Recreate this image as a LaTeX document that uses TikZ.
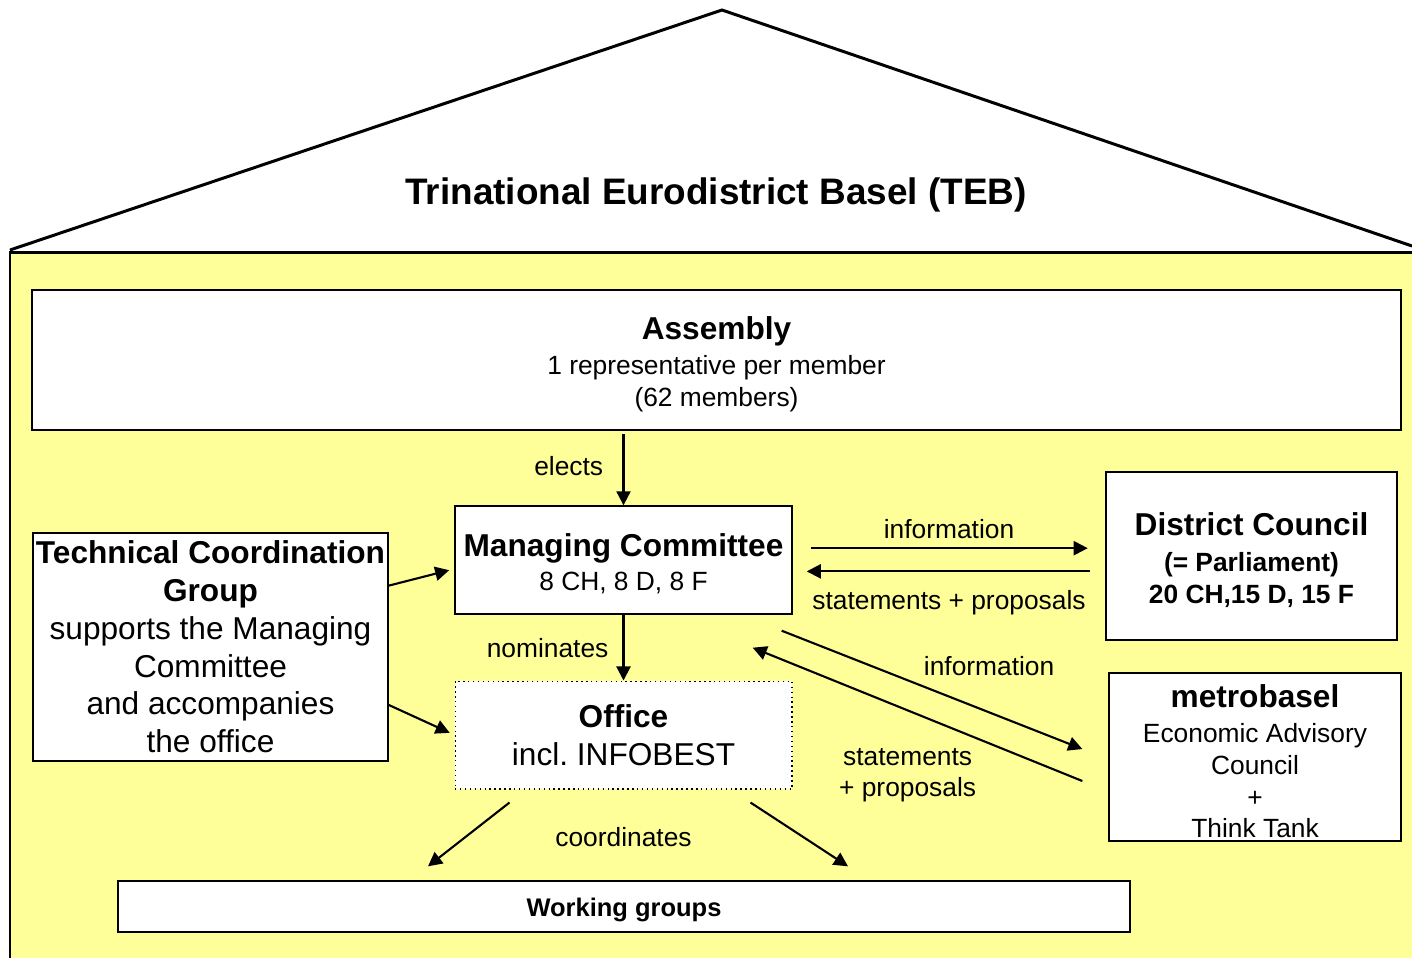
\documentclass[tikz,border=0pt]{standalone}
\usepackage{fontspec}
\setmainfont{Liberation Sans}
\usetikzlibrary{arrows.meta,positioning}
\definecolor{housefill}{HTML}{FFFF99}
\newcommand{\hdfont}{\fontsize{18}{21.5}\selectfont\bfseries}
\newcommand{\smfont}{\fontsize{15}{18}\selectfont}
\newcommand{\hdline}[1]{\rule{0pt}{17.7pt}{\hdfont #1}}

\begin{document}
\begin{tikzpicture}
	[x=0.02cm,y=-0.02cm,
	box/.style={draw,fill=white,line width=0.8pt,inner sep=0pt,align=center,font=\smfont},
	lbl/.style={font=\smfont,inner sep=2pt,align=center},
	arr/.style={-{Triangle[length=8pt,width=8pt]},line width=1.2pt},
	wall/.style={line width=1.7pt}]
	\useasboundingbox (0,0) rectangle (1412,958);
	% house
	\fill[housefill] (10,252) rectangle (1412,958);
	\draw[wall] (10,250) -- (722,10) -- (1412,246);
	\draw[wall] (10,958) -- (10,252) -- (1412,252);
	\node (title) at (716,195) {\fontsize{21}{25}\selectfont\bfseries Trinational Eurodistrict Basel (TEB)};
	
	% boxes
	\node[box,minimum width=27.38cm,minimum height=2.8cm] (asm) at (716.5,360) {\hdline{Assembly}\\[2.4pt]1 representative per member\\(62 members)};
	\node[box,minimum width=6.74cm,minimum height=2.16cm] (mc) at (623.5,560) {\hdline{Managing Committee}\\[1.3pt]8 CH, 8 D, 8 F};
	\node[box,minimum width=7.1cm,minimum height=4.56cm,font=\fontsize{18}{21.5}\selectfont] (tcg) at (210.5,647) {\textbf{Technical Coordination}\\\textbf{Group}\\supports the Managing\\Committee\\and accompanies\\the office};
	\node[box,dotted,line width=0.6pt,minimum width=6.74cm,minimum height=2.16cm,font=\fontsize{18}{21.5}\selectfont] (off) at (623.5,735) {\textbf{Office}\\incl.\ INFOBEST};
	\node[box,minimum width=5.82cm,minimum height=3.36cm,font=\smfont\bfseries] (dc) at (1251.5,556) {\hdline{District Council}\\[2.4pt](= Parliament)\\20 CH,15 D, 15 F};
	\node[box,minimum width=5.84cm,minimum height=3.36cm] (mb) at (1255,757) {\hdline{metrobasel}\\[2.4pt]Economic Advisory\\Council\\+\\Think Tank};
	\node[box,minimum width=20.24cm,minimum height=1.02cm,font=\fontsize{14.5}{17}\selectfont\bfseries] (wg) at (624,906.5) {\rule{0pt}{14pt}Working groups};
	
	% arrows
	\draw[arr,shorten <=2pt] (asm.south -| mc.north) -- (mc.north) node[lbl,midway,left=9pt,yshift=1pt] (lEl) {elects};
	\draw[arr,shorten >=3pt] (tcg.19.5) -- (mc.183.4);
	\draw[arr,shorten >=3pt] (tcg.-18.4) -- (off.west);
	\draw[arr,shorten <=10.5pt,shorten >=10pt] (mc.4.75) -- (mc.4.75 -| dc.west) node[lbl,midway,above=3pt] (lInf) {information};
	\draw[arr,shorten <=9pt,shorten >=8pt] (dc.186.7) -- (dc.186.7 -| mc.east) node[lbl,midway,below=8pt] (lSt) {statements + proposals};
	\draw[arr] (mc.south) -- (off.north) node[lbl,midway,left=6pt] (lNom) {nominates};
	\draw[arr] ([shift={(-11,16)}]mc.south east) -- ([shift={(-26,-8)}]mb.west) node[lbl,pos=0.69,above=18pt] (lInf2) {information};
	\draw[arr] ([shift={(-26,24)}]mb.west) -- ([shift={(-40,33)}]mc.south east) node[lbl,pos=0.53,below=19pt] (lSt2) {statements\\+ proposals};
	\draw[arr] ([shift={(55,13)}]off.south west) -- ([shift={(-196,-14)}]wg.north);
	\draw[arr] ([shift={(-42,13)}]off.south east) -- ([shift={(224,-14)}]wg.north);
	\node[lbl,below=0.68cm of off] (lCoo) {coordinates};
	
\end{tikzpicture}
\end{document}
